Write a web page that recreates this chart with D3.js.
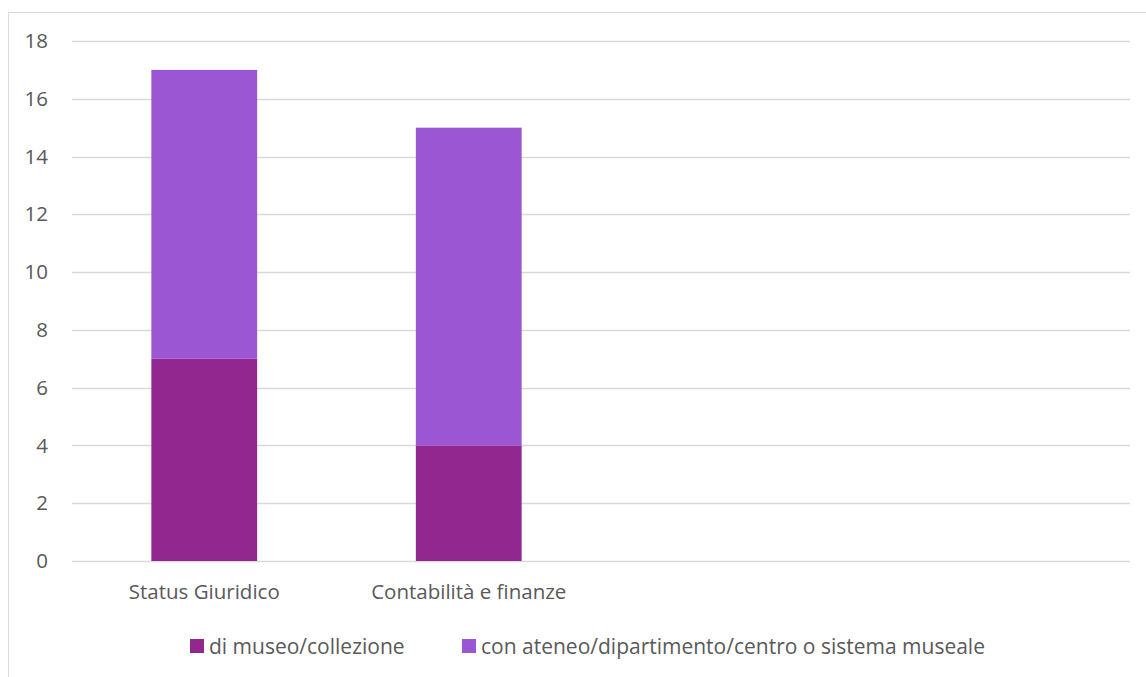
<!DOCTYPE html>
<html><head><meta charset="utf-8">
<script src="https://cdn.jsdelivr.net/npm/d3@7"></script>
<style>body{margin:0;background:#fff}svg{display:block}</style>
</head><body>
<svg id="c" width="1146" height="677"></svg>
<script>
const categories = ["Status Giuridico", "Contabilità e finanze"];
const slotCount = 4; // chart reserves 4 category slots, 2 empty
const seriesNames = ["di museo/collezione", "con ateneo/dipartimento/centro o sistema museale"];
const seriesMuseo = [7, 4];
const seriesAteneo = [10, 11];
const yTicks = [0, 2, 4, 6, 8, 10, 12, 14, 16, 18];
const colors = ["#92278F", "#9B57D3"];

(function () {
const svg = d3.select("#c");
const font = "'Open Sans', sans-serif";
const fs = 20.5;
const plotL = 72, plotR = 1130, plotT = 41, plotB = 561;

// chart border
svg.append("rect").attr("x", 8.5).attr("y", 12.5).attr("width", 1150).attr("height", 680)
  .attr("fill", "none").attr("stroke", "#D9D9D9").attr("stroke-width", 1);

const x = d3.scaleBand().domain(d3.range(slotCount)).range([plotL, plotR]).paddingInner(0.6).paddingOuter(0.3);
const y = d3.scaleLinear().domain([0, 18]).range([plotB, plotT]);

// gridlines
svg.append("g").selectAll("line").data(yTicks).join("line")
  .attr("x1", plotL).attr("x2", plotR)
  .attr("y1", d => Math.round(y(d)) + 0.5).attr("y2", d => Math.round(y(d)) + 0.5)
  .attr("stroke", "#D9D9D9").attr("stroke-width", 1.3);

// y axis labels
const yAxis = d3.axisLeft(y).tickValues(yTicks).tickSize(0).tickPadding(0);
const ga = svg.append("g").attr("transform", `translate(48,0)`).call(yAxis);
ga.select(".domain").remove();
ga.selectAll("text").attr("font-family", font).attr("font-size", fs).attr("fill", "#595959");

// stacked data
const data = categories.map((c, i) => ({ idx: i, museo: seriesMuseo[i], ateneo: seriesAteneo[i] }));
const stack = d3.stack().keys(["museo", "ateneo"])(data);
svg.append("g").selectAll("g").data(stack).join("g").attr("fill", (d, i) => colors[i])
  .selectAll("rect").data(d => d).join("rect")
  .attr("x", d => x(d.data.idx)).attr("width", x.bandwidth())
  .attr("y", d => y(d[1])).attr("height", d => y(d[0]) - y(d[1]));

// x labels
svg.append("g").selectAll("text").data(categories).join("text")
  .attr("x", (d, i) => x(i) + x.bandwidth() / 2).attr("y", 599)
  .attr("text-anchor", "middle").attr("font-family", font).attr("font-size", fs).attr("fill", "#595959")
  .text(d => d);

// legend
const legX = [190, 462];
const lg = svg.append("g").selectAll("g").data(seriesNames).join("g")
  .attr("transform", (d, i) => `translate(${legX[i]},639)`);
lg.append("rect").attr("width", 14).attr("height", 14).attr("fill", (d, i) => colors[i]);
lg.append("text").attr("x", 19).attr("y", 14.5).attr("font-family", font).attr("font-size", 21)
  .attr("fill", "#595959").text(d => d);
})();
</script>
</body></html>
